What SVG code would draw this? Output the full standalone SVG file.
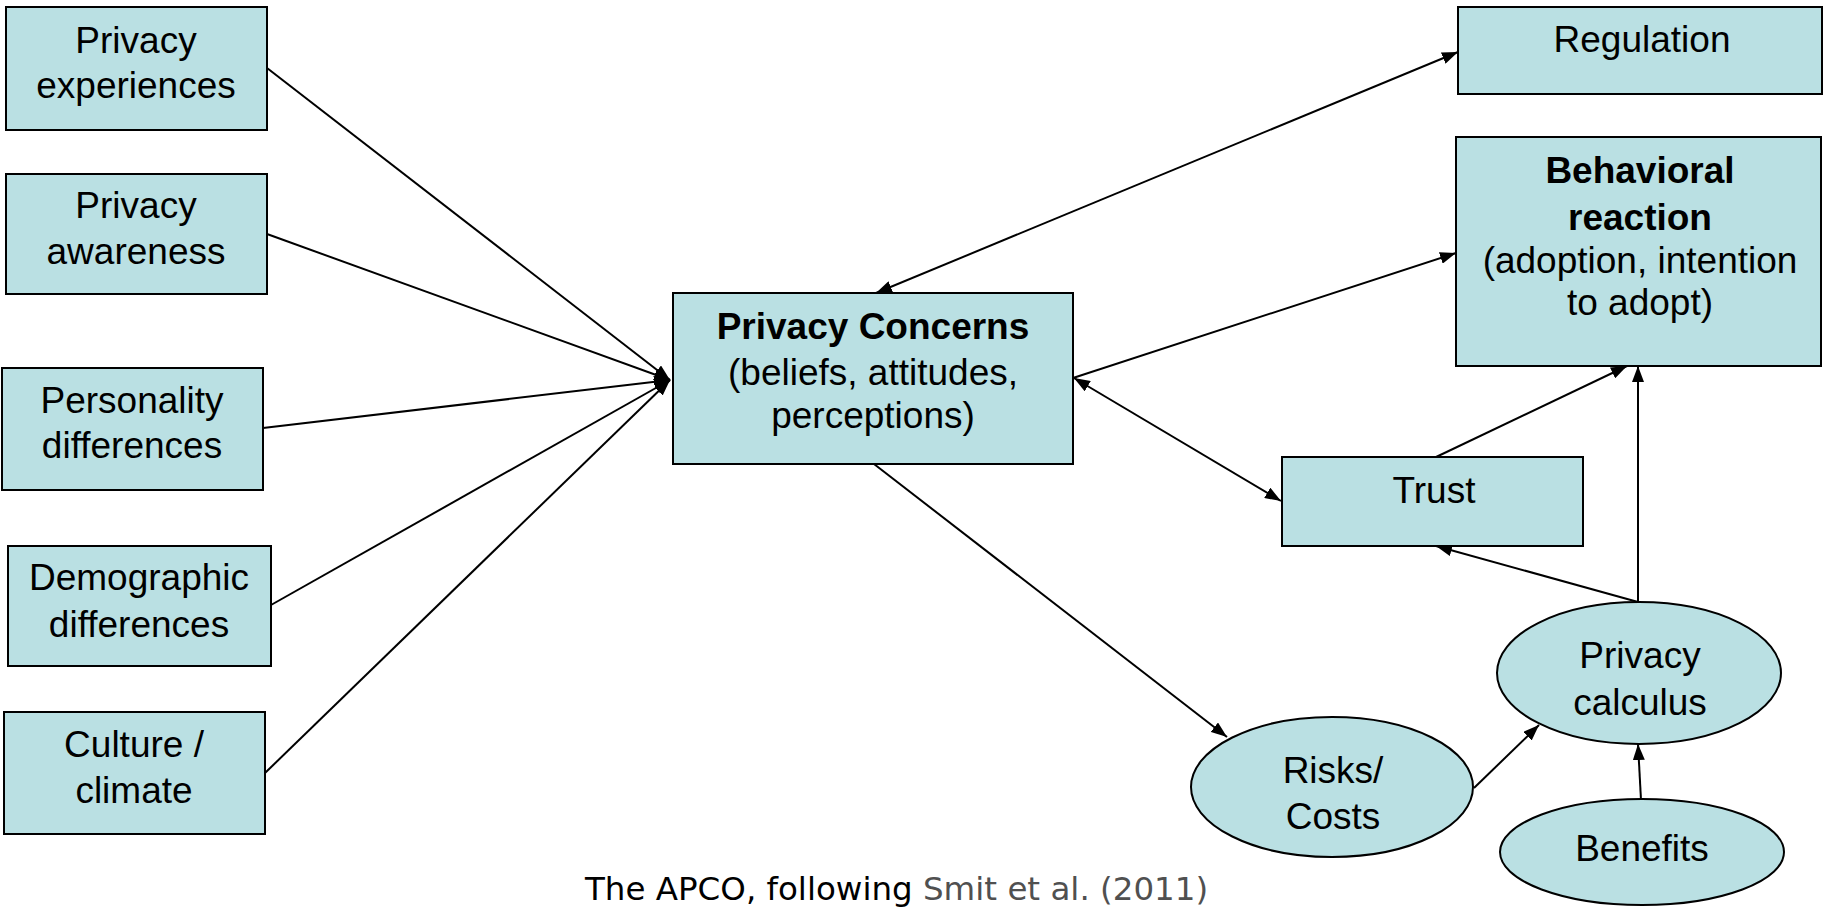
<svg xmlns="http://www.w3.org/2000/svg" width="1824" height="909" viewBox="0 0 1824 909">
<style>
.n{fill:#BAE0E3;stroke:#000;stroke-width:2}
.t{font-family:"Liberation Sans",Arial,sans-serif;font-size:37px;fill:#000;text-anchor:middle}
.b{font-weight:bold}
.c{stroke:#000;stroke-width:2;fill:none;marker-end:url(#ah)}
.bi{marker-start:url(#ah)}
.cap{font-family:"DejaVu Sans",Verdana,sans-serif;font-size:32.5px;fill:#000}
</style>
<defs>
<marker id="ah" viewBox="0 0 16 12" markerWidth="16" markerHeight="12" refX="16" refY="6" orient="auto-start-reverse" markerUnits="userSpaceOnUse">
<path d="M0,0 L16,6 L0,12 z" fill="#000"/>
</marker>
</defs>
<rect width="1824" height="909" fill="#fff"/>
<g id="connectors">
<line class="c" x1="267" y1="68" x2="670" y2="380"/>
<line class="c" x1="267" y1="234" x2="670" y2="380"/>
<line class="c" x1="263" y1="428" x2="670" y2="380"/>
<line class="c" x1="271" y1="605" x2="670" y2="380"/>
<line class="c" x1="265" y1="773" x2="670" y2="380"/>
<line class="c bi" x1="876" y1="293" x2="1458" y2="52"/>
<line class="c" x1="1073" y1="378" x2="1456" y2="253"/>
<line class="c bi" x1="1074" y1="378" x2="1281" y2="501"/>
<line class="c" x1="874" y1="464" x2="1227" y2="737"/>
<line class="c" x1="1434" y1="458" x2="1627" y2="366"/>
<line class="c" x1="1638" y1="602" x2="1638" y2="366"/>
<line class="c" x1="1638" y1="602" x2="1436" y2="546"/>
<line class="c" x1="1474" y1="788" x2="1539" y2="725"/>
<line class="c" x1="1641" y1="800" x2="1638" y2="744"/>
</g>
<g id="privacy-experiences">
<rect class="n" x="6" y="7" width="261" height="123"/>
<text class="t" x="136" y="53">Privacy</text>
<text class="t" x="136" y="98">experiences</text>
</g>
<g id="privacy-awareness">
<rect class="n" x="6" y="174" width="261" height="120"/>
<text class="t" x="136" y="218">Privacy</text>
<text class="t" x="136" y="264">awareness</text>
</g>
<g id="personality-differences">
<rect class="n" x="2" y="368" width="261" height="122"/>
<text class="t" x="132" y="413">Personality</text>
<text class="t" x="132" y="458">differences</text>
</g>
<g id="demographic-differences">
<rect class="n" x="8" y="546" width="263" height="120"/>
<text class="t" x="139" y="590">Demographic</text>
<text class="t" x="139" y="637">differences</text>
</g>
<g id="culture-climate">
<rect class="n" x="4" y="712" width="261" height="122"/>
<text class="t" x="134" y="757">Culture /</text>
<text class="t" x="134" y="803">climate</text>
</g>
<g id="privacy-concerns">
<rect class="n" x="673" y="293" width="400" height="171"/>
<text class="t b" x="873" y="339">Privacy Concerns</text>
<text class="t" x="873" y="385">(beliefs, attitudes,</text>
<text class="t" x="873" y="428">perceptions)</text>
</g>
<g id="regulation">
<rect class="n" x="1458" y="7" width="364" height="87"/>
<text class="t" x="1642" y="52">Regulation</text>
</g>
<g id="behavioral-reaction">
<rect class="n" x="1456" y="137" width="365" height="229"/>
<text class="t b" x="1640" y="183">Behavioral</text>
<text class="t b" x="1640" y="230">reaction</text>
<text class="t" x="1640" y="273">(adoption, intention</text>
<text class="t" x="1640" y="315">to adopt)</text>
</g>
<g id="trust">
<rect class="n" x="1282" y="457" width="301" height="89"/>
<text class="t" x="1434" y="503">Trust</text>
</g>
<g id="privacy-calculus">
<ellipse class="n" cx="1639" cy="673" rx="142" ry="71"/>
<text class="t" x="1640" y="668">Privacy</text>
<text class="t" x="1640" y="715">calculus</text>
</g>
<g id="risks-costs">
<ellipse class="n" cx="1332" cy="787" rx="141" ry="70"/>
<text class="t" x="1333" y="783">Risks/</text>
<text class="t" x="1333" y="829">Costs</text>
</g>
<g id="benefits">
<ellipse class="n" cx="1642" cy="852" rx="142" ry="53"/>
<text class="t" x="1642" y="861">Benefits</text>
</g>
<text class="cap" x="585" y="900">The APCO, following <tspan fill="#505050">Smit et al. (2011)</tspan></text>
</svg>
